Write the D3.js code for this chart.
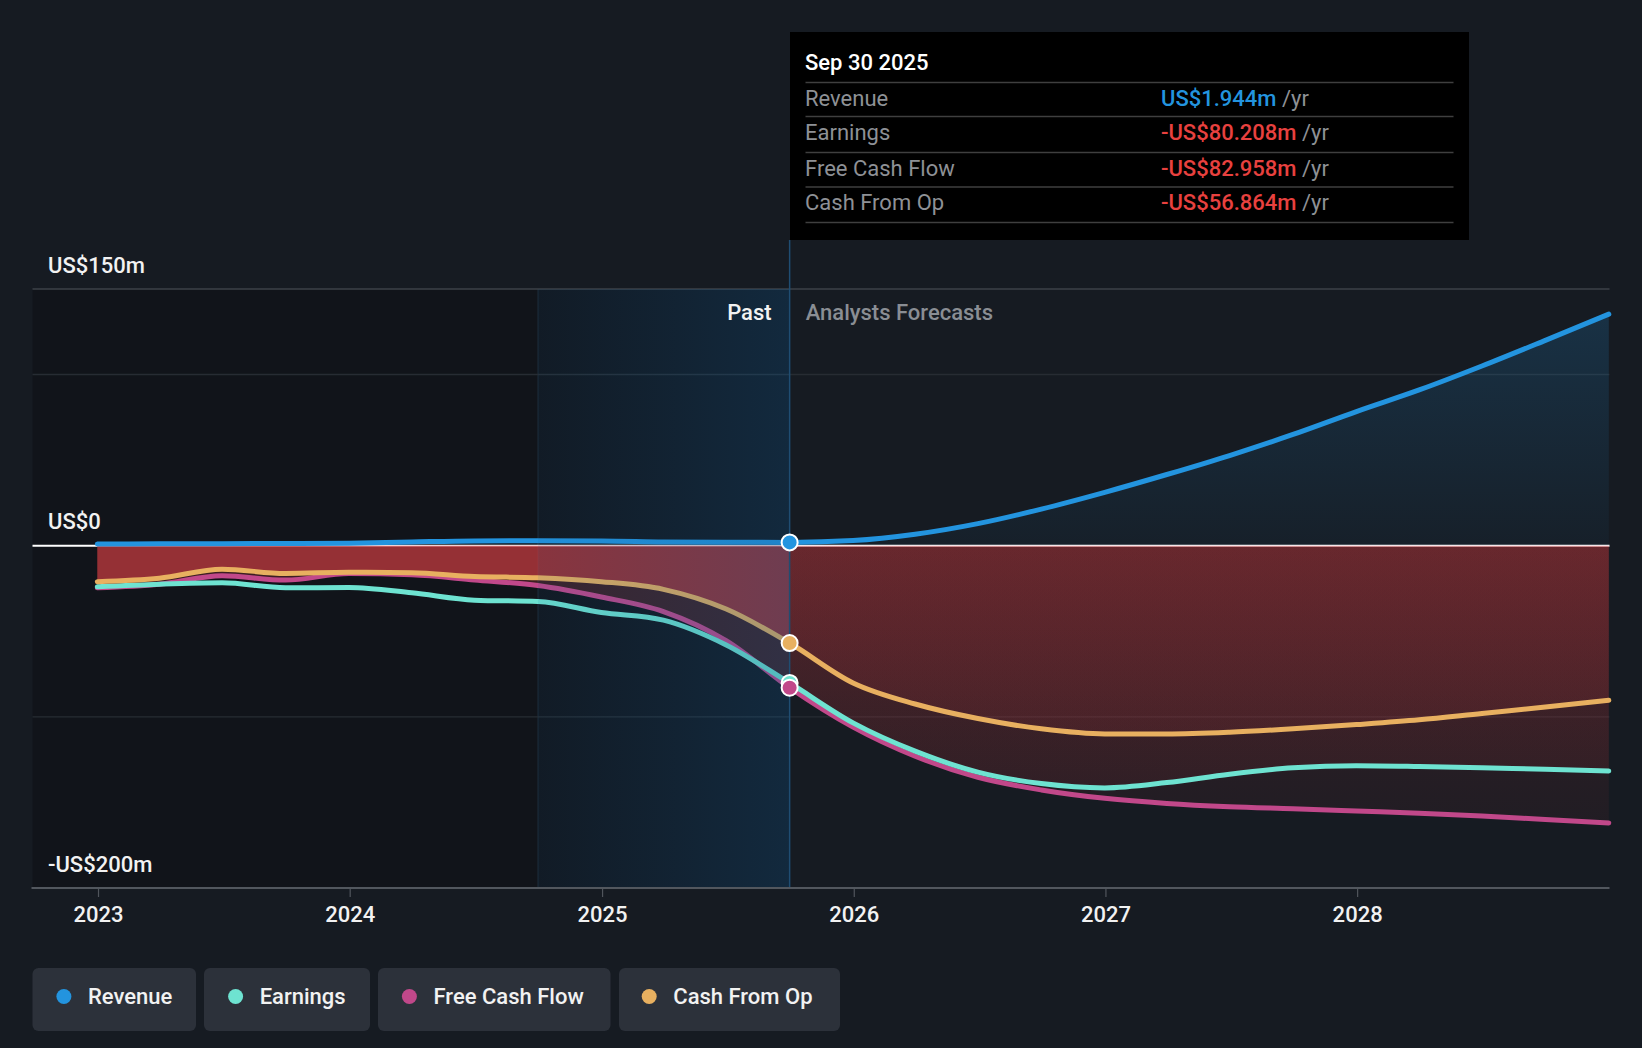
<!DOCTYPE html>
<html><head><meta charset="utf-8">
<script src="https://cdn.jsdelivr.net/npm/d3@7"></script>
<style>
html,body{margin:0;padding:0;background:#161b22;}
svg{display:block;font-family:Roboto,"Noto Sans",sans-serif;}
</style>
</head><body>
<svg id="chart" width="1642" height="1048"></svg>
<script>
// ---------- data ----------
const pastDates = ["2022-12-31","2023-03-31","2023-06-30","2023-09-30","2023-12-31","2024-03-31","2024-06-30","2024-09-30","2024-12-31","2025-03-31","2025-06-30","2025-09-30"];
const pastRevenue  = [1.0, 1.1, 1.2, 1.3, 1.5, 2.2, 2.8, 2.9, 2.8, 2.2, 2.0, 1.944];
const pastEarnings = [-24.0, -22.5, -21.7, -24.6, -24.4, -27.5, -31.8, -32.6, -39.0, -43.5, -58.0, -80.208];
const pastFCF      = [-24.6, -22.5, -17.5, -20.1, -16.3, -17.0, -20.0, -23.3, -30.0, -38.5, -55.5, -82.958];
const pastCFO      = [-21.0, -19.0, -13.8, -16.2, -15.5, -15.8, -18.0, -18.7, -21.0, -25.5, -37.0, -56.864];

const forecastDates = ["2025-09-30","2025-12-31","2026-03-31","2026-06-30","2026-09-30","2026-12-31","2027-03-31","2027-06-30","2027-09-30","2027-12-31","2028-03-31","2028-06-30","2028-09-30","2028-12-31"];
const forecastRevenue  = [1.944, 3.0, 6.7, 12.9, 21.4, 31.2, 41.6, 52.7, 65.0, 78.4, 91.0, 105.0, 120.0, 135.3];
const forecastEarnings = [-80.208, -103.5, -120.0, -132.3, -139.0, -141.5, -138.4, -133.5, -129.8, -128.5, -129.0, -129.8, -130.6, -131.6];
const forecastFCF      = [-82.958, -106.0, -123.0, -135.3, -142.7, -147.6, -150.6, -152.5, -153.7, -155.0, -156.3, -158.0, -160.0, -162.0];
const forecastCFO      = [-56.864, -80.2, -92.5, -101.0, -107.0, -110.0, -110.0, -109.0, -107.0, -104.5, -101.7, -98.0, -94.3, -90.3];

const seriesNames  = ["Revenue","Earnings","Free Cash Flow","Cash From Op"];
const seriesColors = ["#2394df","#6ee3d1","#c1488a","#e8b060"];
const yTickValues  = [150, 0, -200];
const yTickLabels  = ["US$150m","US$0","-US$200m"];
const gridValues   = [150, 100, -100];
const xTickYears   = ["2023","2024","2025","2026","2027","2028"];
const pastStart    = "2024-09-30";
const nowDate      = "2025-09-30";
const tooltipDate  = "Sep 30 2025";
const tooltipValues = ["US$1.944m","-US$80.208m","-US$82.958m","-US$56.864m"];
const tooltipSign   = ["pos","neg","neg","neg"];
const zoneLabels    = ["Past","Analysts Forecasts"];

// ---------- scales ----------
const parse = d3.timeParse("%Y-%m-%d");
const svg = d3.select("#chart");
const X0 = 32.5, X1 = 1609.5, YT = 289, YB = 888;
const FS = 22;
const x = d3.scaleTime().domain([parse("2022-09-28"), parse("2029-01-01")]).range([X0, X1]);
const y = d3.scaleLinear().domain([-200, 150]).range([YB, YT]);

const mk = (dates, vals) => dates.map((d, i) => ({d: parse(d), v: vals[i]}));
const past = {rev: mk(pastDates, pastRevenue), earn: mk(pastDates, pastEarnings), fcf: mk(pastDates, pastFCF), cfo: mk(pastDates, pastCFO)};
const fc = {rev: mk(forecastDates, forecastRevenue), earn: mk(forecastDates, forecastEarnings), fcf: mk(forecastDates, forecastFCF), cfo: mk(forecastDates, forecastCFO)};
const full = k => past[k].concat(fc[k].slice(1));

const curve = d3.curveMonotoneX;
const line = d3.line().x(p => x(p.d)).y(p => y(p.v)).curve(curve);
const area = d3.area().x(p => x(p.d)).y0(y(0)).y1(p => y(p.v)).curve(curve);

const xNow = x(parse(nowDate)), xPast = x(parse(pastStart));

// ---------- gradients ----------
const defs = svg.append("defs");
const gRed = defs.append("linearGradient").attr("id","redF").attr("gradientUnits","userSpaceOnUse")
  .attr("x1",0).attr("x2",0).attr("y1",y(0)).attr("y2",y(-200));
gRed.append("stop").attr("offset",0).attr("stop-color","#e03a3e").attr("stop-opacity",0.16);
gRed.append("stop").attr("offset",1).attr("stop-color","#e03a3e").attr("stop-opacity",0.03);
const gBlue = defs.append("linearGradient").attr("id","blueF").attr("gradientUnits","userSpaceOnUse")
  .attr("x1",0).attr("x2",0).attr("y1",y(150)).attr("y2",y(0));
gBlue.append("stop").attr("offset",0).attr("stop-color","#2394df").attr("stop-opacity",0.2);
gBlue.append("stop").attr("offset",1).attr("stop-color","#2394df").attr("stop-opacity",0.04);
const gBand = defs.append("linearGradient").attr("id","band").attr("gradientUnits","userSpaceOnUse")
  .attr("x1",xPast).attr("x2",xNow).attr("y1",0).attr("y2",0);
gBand.append("stop").attr("offset",0).attr("stop-color","#155b91").attr("stop-opacity",0.1);
gBand.append("stop").attr("offset",1).attr("stop-color","#155b91").attr("stop-opacity",0.3);

// ---------- background ----------
svg.append("rect").attr("x",0).attr("y",0).attr("width",1642).attr("height",1048).attr("fill","#161b22");
svg.append("rect").attr("x",X0).attr("y",YT).attr("width",xNow - X0).attr("height",YB - YT).attr("fill","#11141a");
svg.append("line").attr("x1",xPast).attr("x2",xPast).attr("y1",YT).attr("y2",YB).attr("stroke","#1c2833").attr("stroke-width",1.2);

// gridlines
svg.append("g").selectAll("line").data(gridValues).join("line")
  .attr("x1",X0).attr("x2",X1).attr("y1",d => y(d)).attr("y2",d => y(d))
  .attr("stroke",d => d === 150 ? "#3d4249" : "#272c33").attr("stroke-width",d => d === 150 ? 1.6 : 1.4);

// zero line
svg.append("line").attr("x1",X0).attr("x2",X1).attr("y1",y(0)).attr("y2",y(0))
  .attr("stroke","#ffffff").attr("stroke-width",2);

// forecast fills
svg.append("path").datum(fc.rev).attr("d",area).attr("fill","url(#blueF)");
["cfo","earn","fcf"].forEach(k => svg.append("path").datum(fc[k]).attr("d",area).attr("fill","url(#redF)"));
// past fills
svg.append("path").datum(past.fcf).attr("d",area).attr("fill","#c43a3f").attr("fill-opacity",0.25);
svg.append("path").datum(past.cfo).attr("d",area).attr("fill","#c43a3f").attr("fill-opacity",0.65);

// lines
const order = [["fcf",2],["earn",1],["cfo",3],["rev",0]];
order.forEach(([k,i]) => svg.append("path").datum(full(k)).attr("d",line)
  .attr("fill","none").attr("stroke",seriesColors[i]).attr("stroke-width",5).attr("stroke-linecap","round"));

// highlighted past band overlay
svg.append("rect").attr("x",xPast).attr("y",YT).attr("width",xNow - xPast).attr("height",YB - YT).attr("fill","url(#band)");
svg.append("line").attr("x1",xNow).attr("x2",xNow).attr("y1",240).attr("y2",YB).attr("stroke","#1f4d72").attr("stroke-width",1.5);

// markers
const markers = [["rev",0],["cfo",3],["earn",1],["fcf",2]];
markers.forEach(([k,i]) => {
  const p = fc[k][0];
  svg.append("circle").attr("cx",x(p.d)).attr("cy",y(p.v)).attr("r",8)
    .attr("fill",seriesColors[i]).attr("stroke","#ffffff").attr("stroke-width",2);
});

// x axis
const xAxis = d3.axisBottom(x).tickValues(xTickYears.map(s => parse(s + "-01-01")))
  .tickFormat(d3.timeFormat("%Y")).tickSize(9).tickPadding(9).tickSizeOuter(0);
const gx = svg.append("g").attr("transform",`translate(0,${YB})`).call(xAxis);
gx.select(".domain").remove();
gx.selectAll(".tick line").attr("stroke","#50555c").attr("stroke-width",1.2);
gx.selectAll(".tick text").attr("fill","#f2f2f2").attr("font-size",FS).attr("font-family","Roboto").attr("font-weight",500);
svg.append("line").attr("x1",X0 - 1).attr("x2",X1).attr("y1",YB).attr("y2",YB).attr("stroke","#52575e").attr("stroke-width",2);

// y labels
svg.append("g").selectAll("text").data(yTickValues).join("text")
  .attr("x",48).attr("y",d => y(d) - 16.5).text((d,i) => yTickLabels[i])
  .attr("fill","#f2f2f2").attr("font-size",FS).attr("font-weight",500);

// zone labels
svg.append("text").attr("x",xNow - 18).attr("y",320).attr("text-anchor","end").text(zoneLabels[0])
  .attr("fill","#f2f2f2").attr("font-size",FS).attr("font-weight",500);
svg.append("text").attr("x",xNow + 16).attr("y",320).text(zoneLabels[1])
  .attr("fill","#8a8e94").attr("font-size",FS).attr("font-weight",500);

// tooltip
const tt = svg.append("g");
tt.append("rect").attr("x",790).attr("y",32).attr("width",679).attr("height",208).attr("fill","#000000");
tt.append("text").attr("x",805).attr("y",69.5).text(tooltipDate).attr("fill","#ffffff").attr("font-size",FS).attr("font-weight",500);
const sepY = [82.5, 116.5, 152.5, 187, 222.5];
tt.selectAll("line").data(sepY).join("line").attr("x1",805.5).attr("x2",1453.5).attr("y1",d => d).attr("y2",d => d)
  .attr("stroke","#3f3f3f").attr("stroke-width",1.5);
const rowY = [105.5, 140, 175.5, 210];
seriesNames.forEach((n,i) => {
  tt.append("text").attr("x",805).attr("y",rowY[i]).text(n).attr("fill","#8e9196").attr("font-size",FS);
  const t = tt.append("text").attr("x",1161).attr("y",rowY[i]).attr("font-size",FS);
  t.append("tspan").text(tooltipValues[i]).attr("fill",tooltipSign[i] === "pos" ? "#2394df" : "#e8413f").attr("font-weight",500);
  t.append("tspan").text(" /yr").attr("fill","#8e9196");
});

// legend
const legX = [32.5, 204, 378, 619], legW = [163.5, 166, 232.5, 221];
const dotX = [63.9, 235.6, 409.4, 649.2], txtX = [88, 259.7, 433.5, 673.3];
const lg = svg.append("g");
seriesNames.forEach((n,i) => {
  lg.append("rect").attr("x",legX[i]).attr("y",968).attr("width",legW[i]).attr("height",63).attr("rx",6).attr("fill","#2c313a");
  lg.append("circle").attr("cx",dotX[i]).attr("cy",996.5).attr("r",7.5).attr("fill",seriesColors[i]);
  lg.append("text").attr("x",txtX[i]).attr("y",1004).text(n).attr("fill","#f2f2f2").attr("font-size",FS).attr("font-weight",500);
});
</script>
</body></html>
